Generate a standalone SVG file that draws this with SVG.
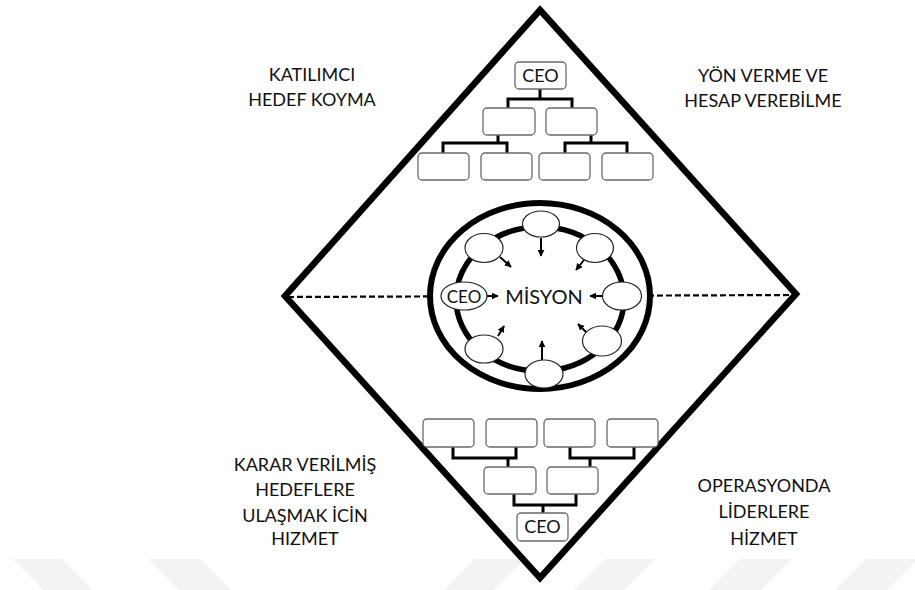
<svg xmlns="http://www.w3.org/2000/svg" width="915" height="590" viewBox="0 0 915 590">
<defs>
<style>
.box{fill:#fff;stroke:#6a6a6a;stroke-width:1.3}
.node{fill:#fff;stroke:#222;stroke-width:1.2}
.conn{fill:none;stroke:#000;stroke-width:3}
.arr{fill:none;stroke:#000;stroke-width:2}
.lbl{font-family:Lato,"Liberation Sans",sans-serif;font-size:18px;fill:#111;text-anchor:middle}
.ceo{font-family:Lato,"Liberation Sans",sans-serif;font-size:18px;fill:#111;text-anchor:middle}
.wm{fill:#f3f3f3}
</style>
<marker id="ah" viewBox="0 0 10 10" refX="9" refY="5" markerWidth="3.5" markerHeight="3.5" orient="auto" markerUnits="strokeWidth">
<path d="M0,0 L10,5 L0,10 z" fill="#000"/>
</marker>
</defs>
<rect width="915" height="590" fill="#fff"/>
<g id="watermark">
<polygon class="wm" points="13,559 62,559 93,590 44,590"/>
<polygon class="wm" points="148,559 200,559 231,590 179,590"/>
<polygon class="wm" points="475,559 525,559 494,590 444,590"/>
<polygon class="wm" points="605,559 655,559 624,590 574,590"/>
<polygon class="wm" points="740,559 792,559 761,590 709,590"/>
<polygon class="wm" points="866,559 915,559 915,562 887,590 835,590"/>
</g>
<g id="diamond">
<polygon points="540,10 796,294 540,578 285,296" fill="none" stroke="#000" stroke-width="6.5" stroke-linejoin="miter"/>
<line x1="288" y1="297" x2="792" y2="295" stroke="#000" stroke-width="2.2" stroke-dasharray="6,3"/>
</g>
<g id="mission-circle">
<ellipse cx="540" cy="296" rx="110" ry="93" fill="#fff" stroke="#000" stroke-width="6"/>
<ellipse cx="540" cy="299" rx="84" ry="72" fill="none" stroke="#000" stroke-width="5.5"/>
</g>
<g id="connectors">
<path class="conn" d="M540,89 V99 M508,108 V99 H572 V108"/>
<path class="conn" d="M498,135 V143 M443,153 V143 H507 V153"/>
<path class="conn" d="M591,135 V143 M565,153 V143 H627 V153"/>
<path class="conn" d="M453,447 V458 H516 V447 M508,458 V467"/>
<path class="conn" d="M570,447 V458 H634 V447 M590,458 V467"/>
<path class="conn" d="M514,494 V505 H576 V494 M543,505 V513"/>
<line class="arr" x1="541" y1="238" x2="541" y2="256" marker-end="url(#ah)"/>
<line class="arr" x1="500" y1="257" x2="511" y2="267" marker-end="url(#ah)"/>
<line class="arr" x1="584" y1="260" x2="576" y2="270" marker-end="url(#ah)"/>
<line class="arr" x1="487" y1="296" x2="498" y2="296" marker-end="url(#ah)"/>
<line class="arr" x1="603" y1="296" x2="590" y2="296" marker-end="url(#ah)"/>
<line class="arr" x1="498" y1="336" x2="504" y2="326" marker-end="url(#ah)"/>
<line class="arr" x1="542" y1="360" x2="542" y2="341" marker-end="url(#ah)"/>
<line class="arr" x1="587" y1="333" x2="578" y2="324" marker-end="url(#ah)"/>
</g>
<g id="top-ceo"><rect class="box" x="515" y="62" width="51" height="27" rx="4"/><text class="ceo" x="540.5" y="82">CEO</text></g>
<g id="top-l2a"><rect class="box" x="483" y="108" width="52" height="27" rx="4"/></g>
<g id="top-l2b"><rect class="box" x="546" y="108" width="51" height="27" rx="4"/></g>
<g id="top-l3a"><rect class="box" x="418" y="153" width="51" height="27" rx="4"/></g>
<g id="top-l3b"><rect class="box" x="481" y="153" width="51" height="27" rx="4"/></g>
<g id="top-l3c"><rect class="box" x="539" y="153" width="51" height="27" rx="4"/></g>
<g id="top-l3d"><rect class="box" x="602" y="153" width="51" height="27" rx="4"/></g>
<g id="bot-l1a"><rect class="box" x="423" y="419" width="51" height="28" rx="4"/></g>
<g id="bot-l1b"><rect class="box" x="486" y="419" width="51" height="28" rx="4"/></g>
<g id="bot-l1c"><rect class="box" x="544" y="419" width="51" height="28" rx="4"/></g>
<g id="bot-l1d"><rect class="box" x="607" y="419" width="51" height="28" rx="4"/></g>
<g id="bot-l2a"><rect class="box" x="484" y="467" width="52" height="27" rx="4"/></g>
<g id="bot-l2b"><rect class="box" x="547" y="467" width="51" height="27" rx="4"/></g>
<g id="bot-ceo"><rect class="box" x="517" y="513" width="51" height="28" rx="4"/><text class="ceo" x="542.5" y="533">CEO</text></g>
<g id="mission"><text class="lbl" x="544" y="304" style="font-size:20px">MİSYON</text></g>
<g id="m-top"><ellipse class="node" cx="541" cy="224" rx="18.5" ry="13"/></g>
<g id="m-tl"><ellipse class="node" cx="484" cy="248" rx="19" ry="14.5"/></g>
<g id="m-tr"><ellipse class="node" cx="595" cy="248" rx="18.5" ry="14.5"/></g>
<g id="m-ceo"><ellipse class="node" cx="464" cy="296" rx="23" ry="14"/><text class="ceo" x="464" y="302.5" style="font-size:17px">CEO</text></g>
<g id="m-r"><ellipse class="node" cx="622" cy="296" rx="19.5" ry="14"/></g>
<g id="m-bl"><ellipse class="node" cx="484" cy="349" rx="19" ry="14"/></g>
<g id="m-br"><ellipse class="node" cx="602" cy="341" rx="19.5" ry="15"/></g>
<g id="m-b"><ellipse class="node" cx="544" cy="374" rx="19" ry="14"/></g>
<g id="label-tl"><text class="lbl" x="312" y="81">KATILIMCI</text><text class="lbl" x="312" y="106">HEDEF KOYMA</text></g>
<g id="label-tr"><text class="lbl" x="763" y="82">YÖN VERME VE</text><text class="lbl" x="763" y="107">HESAP VEREBİLME</text></g>
<g id="label-bl"><text class="lbl" x="305" y="471">KARAR VERİLMİŞ</text><text class="lbl" x="305" y="496">HEDEFLERE</text><text class="lbl" x="305" y="522">ULAŞMAK İCİN</text><text class="lbl" x="305" y="545">HIZMET</text></g>
<g id="label-br"><text class="lbl" x="764" y="492">OPERASYONDA</text><text class="lbl" x="764" y="518">LİDERLERE</text><text class="lbl" x="764" y="545">HİZMET</text></g>
</svg>
